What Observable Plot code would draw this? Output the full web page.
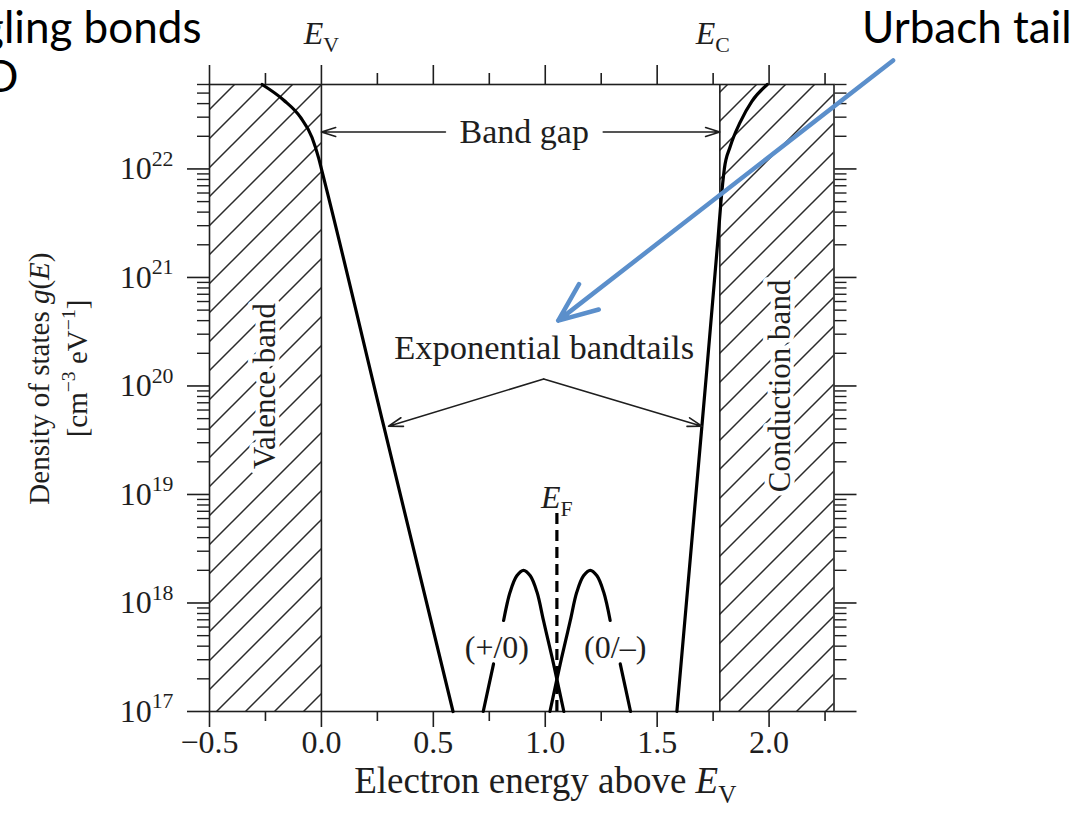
<!DOCTYPE html>
<html>
<head>
<meta charset="utf-8">
<script src="https://cdn.jsdelivr.net/npm/d3@7"></script>
<script src="https://cdn.jsdelivr.net/npm/@observablehq/plot@0.6"></script>
<style>
  html, body { margin: 0; padding: 0; background: #fff; }
  #chart { width: 1091px; height: 828px; overflow: hidden; }
</style>
</head>
<body>
<div id="chart"></div>
<script>
// ---------- data ----------
const xDomain = [-0.5, 2.29];
const yDomain = [1e17, 6e22];
const EV = 0.0, EC = 1.78, EF = 1.052;

const xMajorTicks = [-0.5, 0.0, 0.5, 1.0, 1.5, 2.0];
const xMinorTicks = [-0.25, 0.25, 0.75, 1.25, 1.75, 2.25];
const yDecades = [1e17, 1e18, 1e19, 1e20, 1e21, 1e22];
const yMinorTicks = [];
for (const d of [1e17, 1e18, 1e19, 1e20, 1e21]) for (const m of [2,3,4,5,6,7,8,9]) yMinorTicks.push(m * d);
yMinorTicks.push(2e22, 3e22, 4e22, 5e22, 6e22);

// valence band edge + exponential tail
const vbE = [-0.265, -0.168, -0.094, -0.042, -0.012, 0.0, 0.278, 0.588];
const vbG = [6.0e22, 4.3e22, 3.0e22, 1.95e22, 1.25e22, 1.0e22, 4.3e19, 1.0e17];
// conduction band edge + exponential tail
const cbE = [1.588, 1.700, 1.772, 1.785, 1.800, 1.826, 1.871, 1.923, 1.992];
const cbG = [1.0e17, 4.3e19, 2.3e21, 5.0e21, 1.0e22, 1.6e22, 2.7e22, 4.2e22, 6.0e22];
// dangling-bond (+/0) level, split where its label sits
const donorLowE = [0.723, 0.746, 0.769];
const donorLowG = [1.0e17, 1.66e17, 2.75e17];
const donorE = [0.814, 0.843, 0.873, 0.903, 0.933, 0.963, 0.992, 1.013, 1.037, 1.060, 1.083];
const donorG = [6.9e17, 1.26e18, 1.78e18, 2.0e18, 1.78e18, 1.26e18, 6.9e17, 4.5e17, 2.75e17, 1.66e17, 1.0e17];
// dangling-bond (0/-) level
const acceptorE = [1.021, 1.044, 1.067, 1.091, 1.112, 1.141, 1.171, 1.201, 1.231, 1.261, 1.290];
const acceptorG = [1.0e17, 1.66e17, 2.75e17, 4.5e17, 6.9e17, 1.26e18, 1.78e18, 2.0e18, 1.78e18, 1.26e18, 6.9e17];
const acceptorLowE = [1.335, 1.358, 1.381];
const acceptorLowG = [2.75e17, 1.66e17, 1.0e17];

const efTop = 6.8e18;
const bandStart = [xDomain[0], EC];
const bandEnd = [EV, xDomain[1]];

// annotation anchors (data coordinates)
const bandGapLevel = 2.19e22;
const bandGapGap = [0.554, 1.259];
const tailApex = [0.993, 1.16e20];
const tailTips = [[0.30, 4.26e19], [1.70, 4.26e19]];
const urbachFrom = [2.554, 1.0e23];
const urbachTo = [1.058, 4.0e20];

// ---------- chart ----------
const serif = "'Liberation Serif', 'Times New Roman', serif";
const sans = "Lato, 'Open Sans', sans-serif";
const ink = "#1e1e1e";

const chart = Plot.plot({
  width: 1091,
  height: 828,
  marginLeft: 209,
  marginRight: 257.5,
  marginTop: 84,
  marginBottom: 117,
  x: {domain: xDomain},
  y: {type: "log", domain: yDomain},
  style: {fontFamily: serif, fontSize: "32px", color: ink, background: "white", overflow: "visible"},
  marks: [
    // hatched band regions
    Plot.rect(bandStart, {x1: bandStart, x2: bandEnd, y1: yDomain[0], y2: yDomain[1], fill: "url(#hatch)"}),
    // band text with white halo
    Plot.text(["Valence band"], {x: -0.25, y: 1e20, rotate: -90, fontSize: 31, fill: ink, stroke: "white", strokeWidth: 9, paintOrder: "stroke"}),
    Plot.text(["Conduction band"], {x: 2.05, y: 1e20, rotate: -90, fontSize: 31, fill: ink, stroke: "white", strokeWidth: 9, paintOrder: "stroke"}),
    // band edges
    Plot.ruleX([EV, EC], {stroke: ink, strokeWidth: 1.6}),
    Plot.frame({stroke: ink, strokeWidth: 1.6}),
    // axes
    Plot.axisX({anchor: "bottom", ticks: xMajorTicks, tickSize: 16, tickPadding: 3, tickFormat: d3.format(".1f"), label: null, fontSize: 32, fontFamily: serif, strokeWidth: 1.6}),
    Plot.axisX({anchor: "bottom", ticks: xMinorTicks, tickSize: 10, fill: "none", label: null, strokeWidth: 1.6}),
    Plot.axisX({anchor: "top", ticks: xMajorTicks, tickSize: 20, fill: "none", label: null, strokeWidth: 1.6}),
    Plot.axisX({anchor: "top", ticks: xMinorTicks, tickSize: 12, fill: "none", label: null, strokeWidth: 1.6}),
    Plot.axisY({anchor: "left", ticks: yDecades, tickSize: 22, tickPadding: 14, tickFormat: d => `10^${Math.round(Math.log10(d))}`, label: null, fontSize: 32, fontFamily: serif, strokeWidth: 1.6}),
    Plot.axisY({anchor: "left", ticks: yMinorTicks, tickSize: 12, fill: "none", label: null, strokeWidth: 1.4}),
    Plot.axisY({anchor: "right", ticks: yDecades, tickSize: 22, fill: "none", label: null, strokeWidth: 1.6}),
    Plot.axisY({anchor: "right", ticks: yMinorTicks, tickSize: 12, fill: "none", label: null, strokeWidth: 1.4}),
    // density of states curves
    Plot.line(vbE, {x: vbE, y: vbG, curve: "monotone-x", stroke: "#000", strokeWidth: 3.2}),
    Plot.line(cbE, {x: cbE, y: cbG, curve: "monotone-x", stroke: "#000", strokeWidth: 3.2}),
    Plot.line(donorLowE, {x: donorLowE, y: donorLowG, stroke: "#000", strokeWidth: 3.2}),
    Plot.line(donorE, {x: donorE, y: donorG, curve: "catmull-rom", stroke: "#000", strokeWidth: 3.2}),
    Plot.line(acceptorE, {x: acceptorE, y: acceptorG, curve: "catmull-rom", stroke: "#000", strokeWidth: 3.2}),
    Plot.line(acceptorLowE, {x: acceptorLowE, y: acceptorLowG, stroke: "#000", strokeWidth: 3.2}),
    // Fermi level
    Plot.ruleX([EF], {y1: yDomain[0], y2: efTop, stroke: "#000", strokeWidth: 3.2, strokeDasharray: "11,6"}),
    Plot.text(["E_F"], {x: EF, y: 9.3e18, fontSize: 32, fill: ink}),
    Plot.text(["(+/0)"], {x: 0.784, y: 3.9e17, fontSize: 32, fill: ink}),
    Plot.text(["(0/–)"], {x: 1.3125, y: 3.9e17, fontSize: 32, fill: ink}),
    // band gap annotation
    Plot.arrow(bandGapGap, {x1: bandGapGap, y1: bandGapLevel, x2: [EV, EC], y2: bandGapLevel, stroke: ink, strokeWidth: 1.6, headLength: 14, headAngle: 35}),
    Plot.text(["Band gap"], {x: 0.906, y: bandGapLevel, fontSize: 34, fill: ink}),
    // exponential bandtails annotation
    Plot.arrow(tailTips, {x1: tailApex[0], y1: tailApex[1], x2: d => d[0], y2: d => d[1], stroke: ink, strokeWidth: 1.6, headLength: 14, headAngle: 35}),
    Plot.text(["Exponential bandtails"], {x: 0.995, y: 2.26e20, fontSize: 34.5, fill: ink}),
    // edge labels above the frame
    Plot.text(["E_V"], {x: EV, y: 1.78e23, fontSize: 32, fill: ink}),
    Plot.text(["E_C"], {x: EC, y: 1.78e23, dx: -7, fontSize: 32, fill: ink}),
    // axis titles
    Plot.text(["Electron energy above E_V"], {x: 1.0, y: 2.26e16, fontSize: 37, fill: ink}),
    Plot.text(["Density of states g(E)"], {x: -1.259, y: 1.17e20, rotate: -90, fontSize: 29, fill: ink}),
    Plot.text(["[cm-3 eV-1]"], {x: -1.09, y: 1.45e20, rotate: -90, fontSize: 29, fill: ink}),
    // slide annotations
    Plot.text(["Dangling bonds"], {x: -0.536, y: 1.44e23, textAnchor: "end", lineAnchor: "bottom", fontSize: 44, fontFamily: sans, fill: "#000"}),
    Plot.text(["D"], {x: -1.353, y: 5.07e22, textAnchor: "end", lineAnchor: "bottom", fontSize: 44, fontFamily: sans, fill: "#000"}),
    Plot.text(["Urbach tail"], {x: 2.415, y: 1.44e23, textAnchor: "start", lineAnchor: "bottom", fontSize: 44, fontFamily: sans, fill: "#000"}),
    Plot.arrow([0], {x1: urbachFrom[0], y1: urbachFrom[1], x2: urbachTo[0], y2: urbachTo[1], stroke: "#5B8FCB", strokeWidth: 4.5, headLength: 14, headAngle: 45})
  ]
});

document.getElementById("chart").appendChild(chart);

// hatch pattern
const defs = d3.select(chart).insert("defs", ":first-child");
const pat = defs.append("pattern").attr("id", "hatch").attr("patternUnits", "userSpaceOnUse")
  .attr("width", 29).attr("height", 29);
pat.append("rect").attr("width", 29).attr("height", 29).attr("fill", "white");
pat.append("path").attr("d", "M-2,31 L31,-2 M-4,4 L4,-4 M25,33 L33,25")
  .attr("stroke", "#2b2b2b").attr("stroke-width", 1.5).attr("fill", "none");

// rich text: italics, sub- and superscripts
const NS = "http://www.w3.org/2000/svg";
const richMap = {
  "E_V": [["E", "i"], ["V", "sub"]],
  "E_C": [["E", "i"], ["C", "sub"]],
  "E_F": [["E", "i"], ["F", "sub"]],
  "Electron energy above E_V": [["Electron energy above ", ""], ["E", "i"], ["V", "sub"]],
  "Density of states g(E)": [["Density of states ", ""], ["g", "i"], ["(", ""], ["E", "i"], [")", ""]],
  "[cm-3 eV-1]": [["[cm", ""], ["−3", "sup"], [" eV", ""], ["−1", "sup"], ["]", ""]]
};
function applyRich(el, parts) {
  const fs = parseFloat(getComputedStyle(el).fontSize) || 32;
  el.textContent = "";
  let shift = 0;
  for (const [s, kind] of parts) {
    const t = document.createElementNS(NS, "tspan");
    const target = kind === "sub" ? 0.25 * fs : kind === "sup" ? -0.42 * fs : 0;
    const dy = target - shift;
    if (dy) t.setAttribute("dy", dy.toFixed(2));
    shift = target;
    if (kind === "sub" || kind === "sup") t.setAttribute("font-size", (0.68 * fs).toFixed(1));
    if (kind === "i") t.setAttribute("font-style", "italic");
    t.textContent = s;
    el.appendChild(t);
  }
}
chart.querySelectorAll("text").forEach(el => {
  const s = el.textContent;
  if (richMap[s]) applyRich(el, richMap[s]);
  else {
    const m = /^10\^(\d+)$/.exec(s);
    if (m) applyRich(el, [["10", ""], [m[1], "sup"]]);
  }
});
</script>
</body>
</html>
